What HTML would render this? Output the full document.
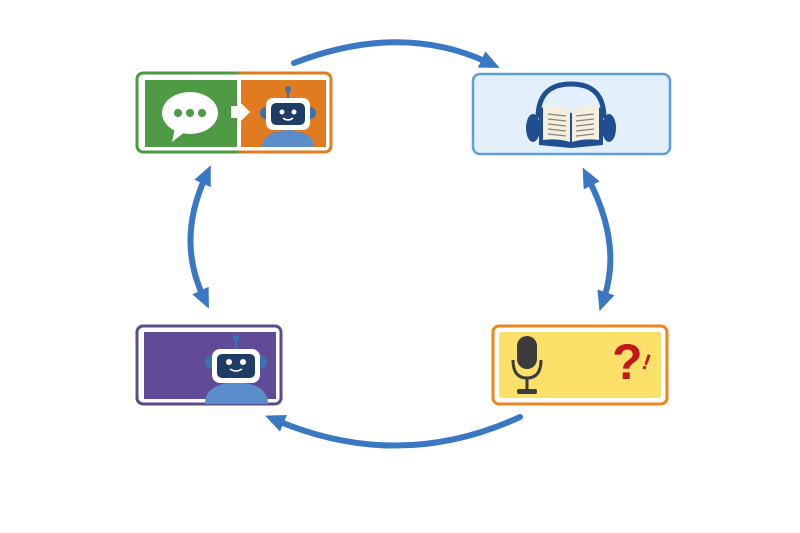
<!DOCTYPE html>
<html><head><style>body{margin:0;background:#fff}svg{display:block}</style></head><body>
<svg width="800" height="533" viewBox="0 0 800 533" xmlns="http://www.w3.org/2000/svg">
<defs>
<marker id="ah" markerWidth="20" markerHeight="18" refX="6" refY="9" orient="auto" markerUnits="userSpaceOnUse">
<path d="M0,0 L20,9 L0,18 Z" fill="#3a78c4"/></marker>
<marker id="as" markerWidth="20" markerHeight="18" refX="6" refY="9" orient="auto-start-reverse" markerUnits="userSpaceOnUse">
<path d="M0,0 L20,9 L0,18 Z" fill="#3a78c4"/></marker>
<linearGradient id="g1" x1="0" x2="1"><stop offset="0.5" stop-color="#4a9a40"/><stop offset="0.55" stop-color="#e07d20"/></linearGradient>
</defs>
<g fill="none" stroke="#3a78c4" stroke-width="6" stroke-linecap="round">
<path d="M294,63 Q400,22 487,62" marker-end="url(#ah)"/>
<path d="M589,180 Q622,245 604,298" marker-start="url(#as)" marker-end="url(#as)"/>
<path d="M520,417 Q400,472 278,421" marker-end="url(#ah)"/>
<path d="M205,178 Q177,240 203,296" marker-start="url(#as)" marker-end="url(#as)"/>
</g>
<!-- box1 -->
<rect x="137" y="73" width="194" height="79" rx="6" fill="#fff" stroke="url(#g1)" stroke-width="3"/>
<rect x="145" y="80" width="92" height="67" fill="#4e9a45"/>
<rect x="241" y="80" width="85" height="67" fill="#e07c1f"/>
<ellipse cx="190" cy="113" rx="28" ry="21" fill="#fff"/>
<path d="M175,128 L172,142 L186,131 Z" fill="#fff"/>
<circle cx="178" cy="113" r="4" fill="#4e9a45"/><circle cx="190" cy="113" r="4" fill="#4e9a45"/><circle cx="202" cy="113" r="4" fill="#4e9a45"/>
<path d="M231,106 L238,106 L238,100 L250,112 L238,124 L238,118 L231,118 Z" fill="#fff"/>
<g>
<line x1="288" y1="90" x2="288" y2="98" stroke="#3a6fb0" stroke-width="2"/><circle cx="288" cy="89" r="3" fill="#3a6fb0"/>
<path d="M262,147 Q262,132 288,130 Q314,132 314,147 Z" fill="#5b8dcc"/>
<circle cx="266" cy="113" r="6" fill="#3a6fb0"/><circle cx="310" cy="113" r="6" fill="#3a6fb0"/>
<rect x="266" y="98" width="44" height="32" rx="7" fill="#fff"/>
<rect x="271" y="103" width="34" height="22" rx="5" fill="#1f3c66"/>
<circle cx="282" cy="112" r="2.5" fill="#fff"/><circle cx="294" cy="112" r="2.5" fill="#fff"/>
<path d="M283,118 Q288,122 293,118" stroke="#fff" stroke-width="1.5" fill="none"/>
</g>
<!-- box2 -->
<rect x="473" y="74" width="197" height="80" rx="7" fill="#e3f0fc" stroke="#5f9fd9" stroke-width="2.5"/>
<path d="M538,118 Q538,84 571,84 Q604,84 604,118" fill="none" stroke="#1f4f8f" stroke-width="5"/>
<ellipse cx="533" cy="128" rx="7" ry="14" fill="#1f4f8f"/><ellipse cx="609" cy="128" rx="7" ry="14" fill="#1f4f8f"/>
<path d="M539,107 L571,113 L603,107 L603,145 L571,148 L539,145 Z" fill="#1f4f8f"/>
<path d="M543,106 Q557,104 570,110 L570,142 Q557,138 543,140 Z" fill="#f5efe0"/>
<path d="M572,110 Q585,104 599,106 L599,140 Q585,138 572,142 Z" fill="#f5efe0"/>
<g stroke="#8a8378" stroke-width="1.2"><line x1="548" y1="114" x2="566" y2="116"/><line x1="548" y1="119" x2="566" y2="121"/><line x1="548" y1="124" x2="566" y2="126"/><line x1="548" y1="129" x2="566" y2="131"/><line x1="548" y1="134" x2="566" y2="136"/>
<line x1="576" y1="116" x2="594" y2="114"/><line x1="576" y1="121" x2="594" y2="119"/><line x1="576" y1="126" x2="594" y2="124"/><line x1="576" y1="131" x2="594" y2="129"/><line x1="576" y1="136" x2="594" y2="134"/></g>
<!-- box3 purple -->
<rect x="137" y="326" width="144" height="78" rx="6" fill="#fff" stroke="#5b4a92" stroke-width="3"/>
<rect x="144" y="332" width="132" height="67" fill="#5f4b97"/>
<g>
<line x1="236" y1="340" x2="236" y2="350" stroke="#3a6fb0" stroke-width="2"/><circle cx="236" cy="338" r="3.5" fill="#3a6fb0"/>
<path d="M205,404 Q205,384 236,382 Q268,384 268,404 Z" fill="#5b8dcc"/>
<circle cx="212" cy="362" r="7" fill="#3a6fb0"/><circle cx="260" cy="362" r="7" fill="#3a6fb0"/>
<rect x="212" y="349" width="48" height="34" rx="8" fill="#fff"/>
<rect x="217" y="354" width="38" height="24" rx="5" fill="#1f3c66"/>
<circle cx="229" cy="362" r="3" fill="#fff"/><circle cx="243" cy="362" r="3" fill="#fff"/>
<path d="M230,369 Q236,373 242,369" stroke="#fff" stroke-width="1.5" fill="none"/>
</g>
<!-- box4 yellow -->
<rect x="493" y="326" width="174" height="78" rx="6" fill="#fff" stroke="#e8871e" stroke-width="3"/>
<rect x="499" y="332" width="162" height="66" rx="3" fill="#fbe06a"/>
<rect x="517" y="336" width="20" height="33" rx="10" fill="#3c3c3c"/>
<path d="M513,360 Q513,378 527,378 Q541,378 541,360" fill="none" stroke="#3c3c3c" stroke-width="3"/>
<line x1="527" y1="378" x2="527" y2="390" stroke="#3c3c3c" stroke-width="3"/>
<rect x="517" y="389" width="20" height="5" rx="2" fill="#3c3c3c"/>
<text x="612" y="379" font-family="Liberation Sans, sans-serif" font-weight="bold" font-size="50" fill="#c4161c">?</text>
<text x="643" y="370" font-family="Liberation Sans, sans-serif" font-weight="bold" font-size="22" fill="#c4161c" transform="rotate(20 648 362)">!</text>
</svg>
</body></html>
